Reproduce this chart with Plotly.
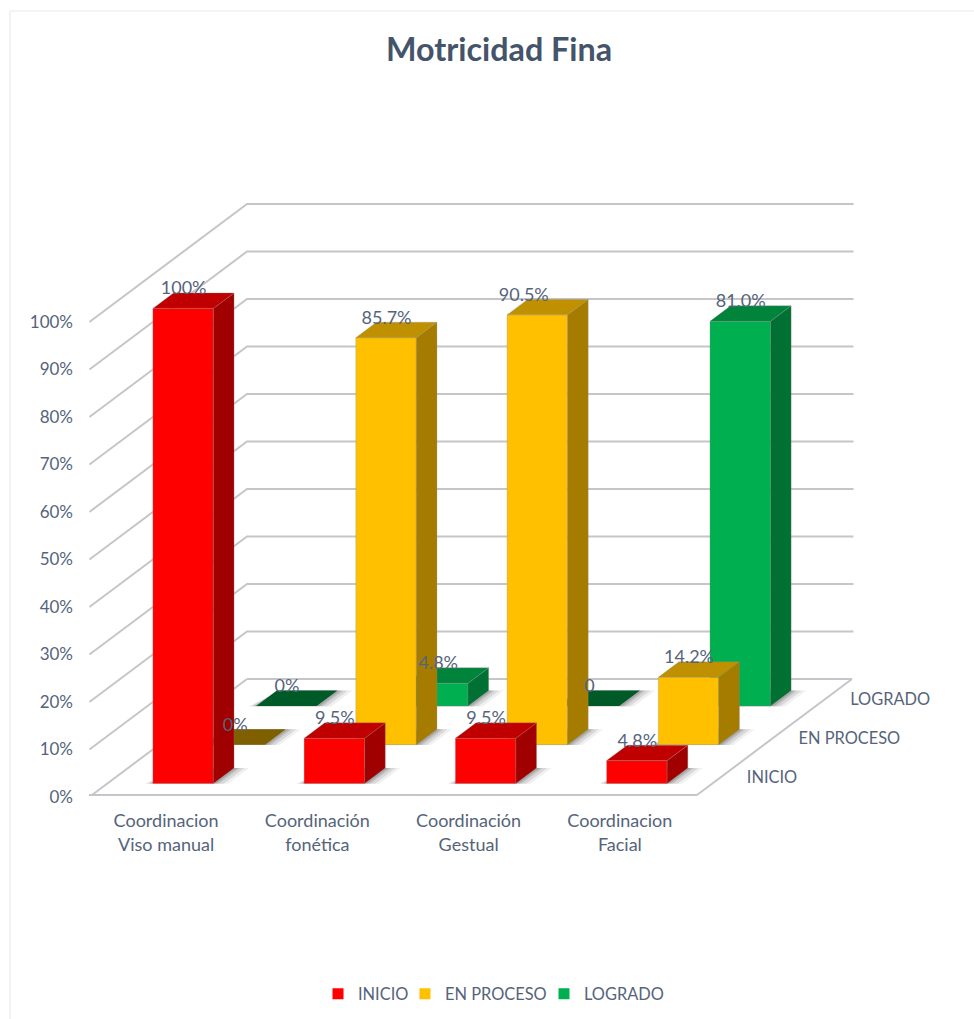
import plotly.graph_objects as go

TITLE = "Motricidad Fina"
CATEGORIES = ["Coordinacion<br>Viso manual", "Coordinación<br>fonética",
              "Coordinación<br>Gestual", "Coordinacion<br>Facial"]
SERIES = ["INICIO", "EN PROCESO", "LOGRADO"]
INICIO = [100, 9.5, 9.5, 4.8]
EN_PROCESO = [0, 85.7, 90.5, 14.2]
LOGRADO = [0, 4.8, 0, 81.0]
INICIO_LABELS = ["100%", "9.5%", "9.5%", "4.8%"]
EN_PROCESO_LABELS = ["0%", "85.7%", "90.5%", "14.2%"]
LOGRADO_LABELS = ["0%", "4.8%", "0", "81.0%"]
Y_TICKS = list(range(0, 101, 10))

# styles
FRONT = ["#FF0000", "#FFC000", "#00B050"]
TOP = ["#C00000", "#BF9000", "#00843C"]
SIDE = ["#A00000", "#A67C00", "#007033"]
FLAT = ["#C00000", "#7F6000", "#005A28"]
TEXT = "#55647B"
GRID = "#C6C6CA"
FONT = "Lato"
W, H = 974, 1019

# oblique projection of (category, depth, percent) to the page
X0, Y0 = 92, 795
CAT_W, DEPTH_X, DEPTH_Y, PCT = 151.25, 51.67, 38.67, 4.75
BAR = 0.4
PAD = (1 - BAR) / 2


def P(c, d, z=0):
    return X0 + CAT_W * c + DEPTH_X * d, Y0 - DEPTH_Y * d - PCT * z


fig = go.Figure()


def poly(pts, fill, line=None, lw=0.8):
    xs = [p[0] for p in pts] + [pts[0][0]]
    ys = [p[1] for p in pts] + [pts[0][1]]
    fig.add_trace(go.Scatter(x=xs, y=ys, mode="lines", fill="toself", fillcolor=fill,
                             line=dict(color=line or fill, width=lw if line else 0),
                             hoverinfo="skip", showlegend=False))


def seg(a, b, color=GRID, lw=2):
    fig.add_trace(go.Scatter(x=[a[0], b[0]], y=[a[1], b[1]], mode="lines",
                             line=dict(color=color, width=lw),
                             hoverinfo="skip", showlegend=False))


def texts(xs, ys, labels, pos, size=17):
    fig.add_trace(go.Scatter(x=xs, y=ys, text=labels, mode="text", textposition=pos,
                             textfont=dict(family=FONT, size=size, color=TEXT),
                             hoverinfo="skip", showlegend=False))


# chart frame
seg((10, H), (10, 11), "#E6EAF1", 1.2)
seg((10, 11), (W, 11), "#E6EAF1", 1.2)

# walls and floor
for t in Y_TICKS:
    if t > 0:
        a, b = P(0, -0.05, t), P(0, 3, t)
        fig.add_trace(go.Scatter(x=[a[0], b[0], P(4.01, 3, t)[0]], y=[a[1], b[1], b[1]], mode="lines",
                                 line=dict(color=GRID, width=2), hoverinfo="skip", showlegend=False))
seg(P(-0.02, 0), P(4, 0))
seg(P(0, 0), P(0, 3))
seg(P(4, 0), P(4, 3))
seg(P(0, 3), P(4, 3))

# bars, back row first
rows = [INICIO, EN_PROCESO, LOGRADO]
for s in (2, 1, 0):
    for c, v in enumerate(rows[s]):
        c0, c1 = c + PAD, c + PAD + BAR
        d0, d1 = s + PAD, s + PAD + BAR
        for grow, alpha in ((0.10, 0.08), (0.07, 0.13), (0.04, 0.16), (0.02, 0.2)):
            poly([P(c0 - grow * 0.5, d0 - grow * 0.1), P(c1 + grow, d0 - grow * 0.1),
                  P(c1 + grow, d1), P(c0 + 0.02, d1)], f"rgba(60,60,60,{alpha})")
        if v == 0:
            poly([P(c0, d0), P(c1, d0), P(c1, d1), P(c0, d1)], FLAT[s])
            continue
        edge = "rgba(140,140,140,0.35)"
        poly([P(c0, d0), P(c1, d0), P(c1, d0, v), P(c0, d0, v)], FRONT[s], edge)
        poly([P(c1, d0), P(c1, d1), P(c1, d1, v), P(c1, d0, v)], SIDE[s], edge)
        poly([P(c0, d0, v), P(c1, d0, v), P(c1, d1, v), P(c0, d1, v)], TOP[s], edge)

# axis labels
texts([73] * len(Y_TICKS), [P(0, 0, t)[1] + 3.5 for t in Y_TICKS], [f"{t}%" for t in Y_TICKS], "middle left", 17)
texts([P(c + 0.5, 0)[0] - 1.5 for c in range(4)], [P(0, 0)[1] + 39.5] * 4, CATEGORIES, "middle center", 18)
texts([P(4, s + 0.5)[0] + 24 for s in range(3)], [P(4, s + 0.5)[1] + 3 for s in range(3)], SERIES, "middle right", 16.4)

# value labels
NUDGE_90_5 = -14
all_labels = [INICIO_LABELS, EN_PROCESO_LABELS, LOGRADO_LABELS]
lx, ly, lt = [], [], []
for s, row in enumerate(rows):
    for c, v in enumerate(row):
        x, _ = P(c + 0.5, s + PAD, v)
        _, y = P(c + PAD, s + PAD + BAR, v)
        if s == 1 and c == 2:
            x += NUDGE_90_5
        lx.append(x + 0.5)
        ly.append(y - 3)
        lt.append(all_labels[s][c])
texts(lx, ly, lt, "middle center", 18)

# legend entries: one small legend per series so each can sit where the reference has it
LEGEND_TEXT_X = [358, 445, 584]
LEGEND_IDS = ["legend", "legend2", "legend3"]
for name, col, lid in zip(SERIES, FRONT, LEGEND_IDS):
    fig.add_trace(go.Scatter(x=[None], y=[None], mode="markers", name=name, legend=lid,
                             marker=dict(symbol="square", size=11, color=col)))

legends = {
    lid: dict(orientation="h", x=(tx - 40) / W, xanchor="left", y=1 - 994 / H, yanchor="middle",
              font=dict(family=FONT, size=16.4, color=TEXT), itemwidth=30,
              bgcolor="rgba(0,0,0,0)")
    for lid, tx in zip(LEGEND_IDS, LEGEND_TEXT_X)
}

fig.update_layout(
    width=W, height=H, margin=dict(l=0, r=0, t=0, b=0),
    paper_bgcolor="white", plot_bgcolor="white",
    title=dict(text=f"<b>{TITLE}</b>", x=499 / W, xanchor="center", y=1 - 50 / H, yanchor="middle",
               font=dict(family=FONT, size=32.3, color="#44546A")),
    xaxis=dict(range=[0, W], visible=False, fixedrange=True),
    yaxis=dict(range=[H, 0], visible=False, fixedrange=True),
    **legends,
)
fig.write_html("out.html", config={"displayModeBar": False},
               post_script="document.body.style.margin='0';document.body.style.overflow='hidden';")
